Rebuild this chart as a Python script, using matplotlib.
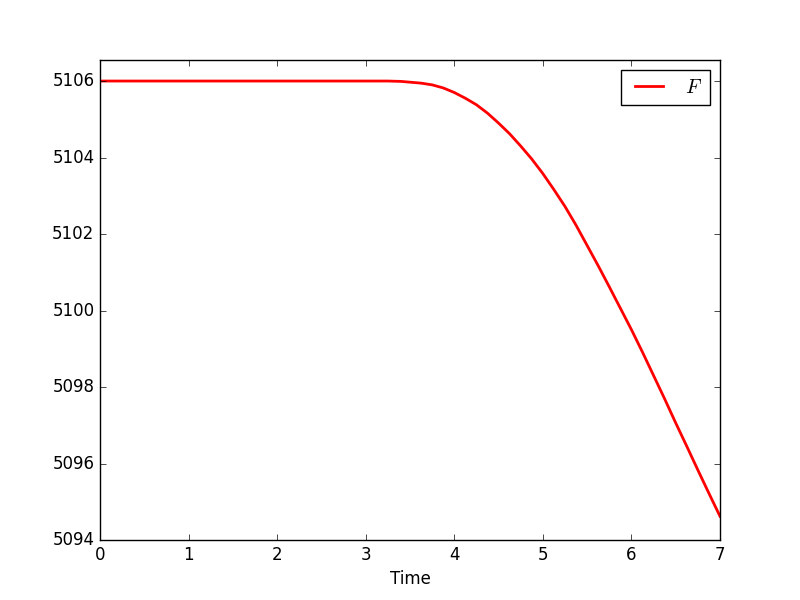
import matplotlib
matplotlib.use('Agg')
import matplotlib.pyplot as plt

### Datos ###
tiempo = [0.0, 3.0, 3.25, 3.4, 3.5, 3.625, 3.75, 3.875, 4.0, 4.125, 4.25, 4.375,
          4.5, 4.625, 4.75, 4.875, 5.0, 5.125, 5.25, 5.375, 5.5, 5.625, 5.75,
          5.875, 6.0, 6.125, 6.25, 6.375, 6.5, 6.625, 6.75, 6.875, 7.0]
F = [5106.0, 5106.0, 5106.0, 5105.99, 5105.97, 5105.945, 5105.90, 5105.82, 5105.70,
     5105.55, 5105.38, 5105.16, 5104.90, 5104.62, 5104.30, 5103.96, 5103.58,
     5103.16, 5102.72, 5102.23, 5101.70, 5101.17, 5100.62, 5100.06, 5099.50,
     5098.91, 5098.30, 5097.69, 5097.06, 5096.45, 5095.83, 5095.22, 5094.62]

### Grafico ###
plt.style.use('classic')
fig, ax = plt.subplots(figsize=(8, 6), dpi=100)
ax.plot(tiempo, F, color='red', lw=2, label='$F$')
ax.set_xlim(0, 7)
ax.set_ylim(5094, 5106.55)
ax.ticklabel_format(useOffset=False, axis='y')
ax.set_xlabel('Time')
ax.legend(loc='upper right')
fig.savefig('out.png', dpi=100, facecolor='white')
